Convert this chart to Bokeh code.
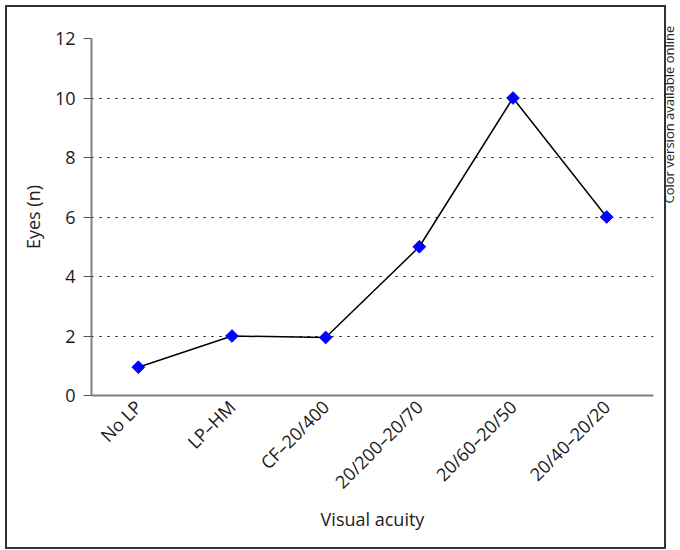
import numpy as np
from bokeh.plotting import figure
from bokeh.models import Label, FixedTicker, Range1d
from bokeh.embed import file_html
from bokeh.resources import INLINE

categories = ["No LP", "LP\u2013HM", "CF\u201320/400", "20/200\u201320/70", "20/60\u201320/50", "20/40\u201320/20"]
eyes = [0.95, 2.0, 1.95, 5.0, 10.0, 6.0]
y_ticks = [0, 2, 4, 6, 8, 10, 12]

FONT = "Open Sans"

p = figure(x_range=categories, y_range=Range1d(0, 12), width=680, height=550,
           output_backend="svg", toolbar_location=None,
           min_border_left=91, min_border_right=27, min_border_top=38, min_border_bottom=155)
p.outline_line_color = None
p.background_fill_color = None
p.border_fill_color = None

# outer frame line of the figure panel (drawn behind the transparent canvas)
edge = "linear-gradient(#333333, #333333)"
p.styles = {
    "background-color": "white",
    "background-image": ", ".join([edge] * 4),
    "background-size": "661px 2px, 661px 2px, 2px 544px, 2px 544px",
    "background-position": "5px 5px, 5px 547px, 5px 5px, 664px 5px",
    "background-repeat": "no-repeat",
}

p.line(categories, eyes, line_color="black", line_width=1.5)
p.scatter(categories, eyes, marker="square", angle=np.pi / 4, size=9,
          fill_color="#0000ff", line_color="#0000ff")

# grid
p.xgrid.grid_line_color = None
p.ygrid.grid_line_color = "black"
p.ygrid.grid_line_dash = "2 6"
p.ygrid.grid_line_width = 1
p.ygrid.ticker = FixedTicker(ticks=y_ticks[1:])

# y axis
p.yaxis.ticker = FixedTicker(ticks=y_ticks)
p.yaxis.axis_label = "Eyes (n)"
p.yaxis.axis_line_color = "#808080"
p.yaxis.axis_line_width = 2
p.yaxis.major_tick_line_color = "#555555"
p.yaxis.major_tick_out = 8
p.yaxis.major_tick_in = 0
p.yaxis.minor_tick_line_color = None
p.yaxis.major_label_standoff = 8
p.yaxis.axis_label_standoff = 7

# x axis
p.xaxis.axis_label = "Visual acuity"
p.xaxis.axis_line_color = "#808080"
p.xaxis.axis_line_width = 2
p.xaxis.major_tick_line_color = None
p.xaxis.major_tick_out = 0
p.xaxis.major_label_orientation = np.pi / 4
p.xaxis.major_label_standoff = 8
p.xaxis.axis_label_standoff = 2

for ax in (p.xaxis[0], p.yaxis[0]):
    ax.major_label_text_font = FONT
    ax.major_label_text_font_size = "18px"
    ax.major_label_text_color = "#1a1a1a"
    ax.axis_label_text_font = FONT
    ax.axis_label_text_font_size = "18px"
    ax.axis_label_text_font_style = "normal"
    ax.axis_label_text_color = "#222222"

# side note (in a side panel so it is not clipped to the frame)
p.add_layout(Label(x=668, y=203, x_units="canvas", y_units="canvas",
                   text="Color version available online", angle=np.pi / 2,
                   text_align="left", text_baseline="alphabetic",
                   text_font=FONT, text_font_size="13px", text_color="#222222"), "right")

open("out.html", "w").write(file_html(p, INLINE))
